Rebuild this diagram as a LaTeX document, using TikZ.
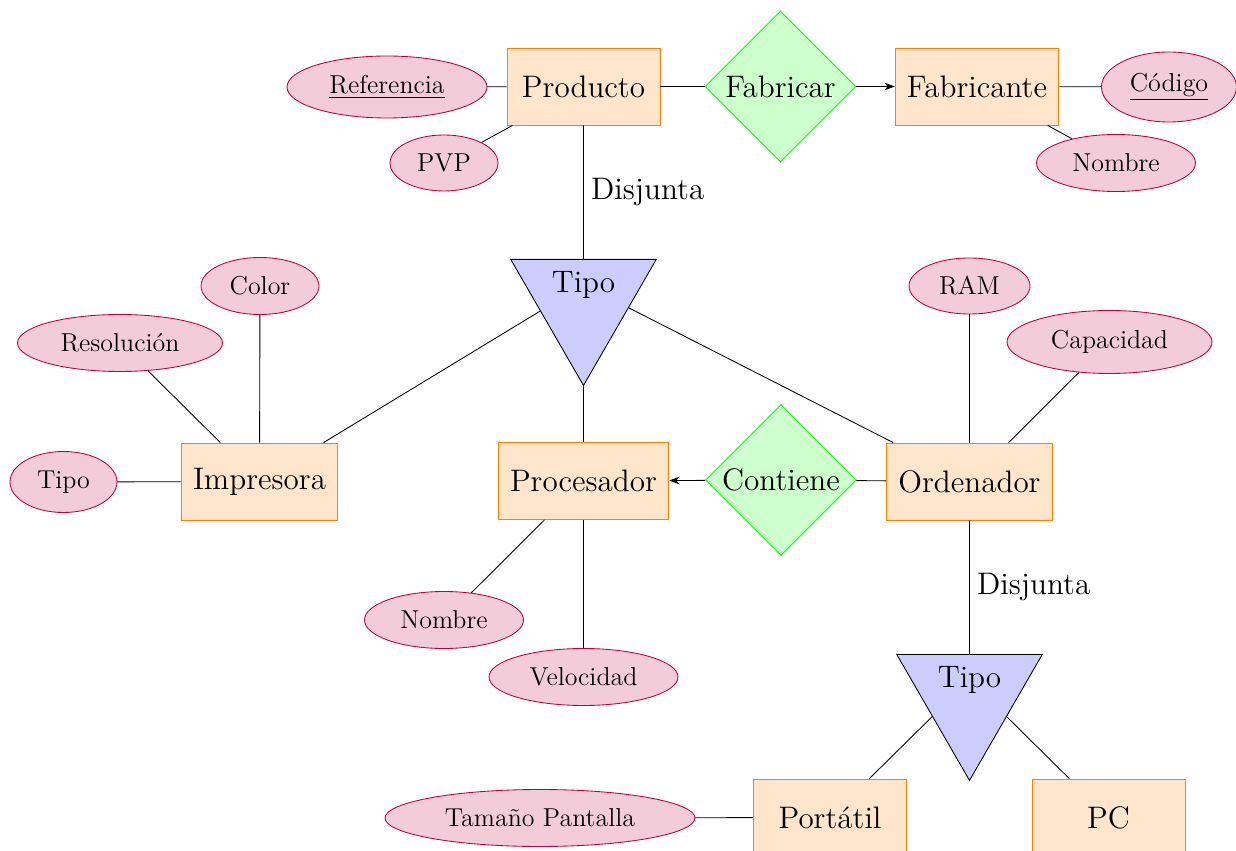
\documentclass[tikz,border=0pt]{standalone}
\usetikzlibrary{shapes.geometric,arrows.meta}
\begin{document}
\begin{tikzpicture}[x=0.46296pt,y=-0.46296pt,
  ent/.style={draw=orange,fill=orange!20,rectangle,font=\Large,inner sep=5.5pt,minimum width=153*0.46296pt,minimum height=77*0.46296pt},
  att/.style={draw=purple,fill=purple!20,ellipse,font=\large,inner sep=0pt},
  sz/.style 2 args={minimum width=#1*0.46296pt,minimum height=#2*0.46296pt},
  rel/.style={draw=green,fill=green!20,diamond,aspect=1,font=\Large,inner sep=0pt,minimum width=151*0.46296pt,minimum height=151*0.46296pt},
  isa/.style={draw=black,fill=blue!20,isosceles triangle,isosceles triangle apex angle=60,shape border rotate=-90,font=\Large,inner sep=5.45pt,anchor=lower side},
  arr/.style={-{Stealth}},
  lab/.style={right,font=\Large}]
\useasboundingbox (0,0) rectangle (1236,851);
\clip (0,0) rectangle (1236,851);
% entities
\node[ent] (prod) at (583.5,86.5) {Producto};
\node[ent] (fabte) at (977,86.5) {Fabricante};
\node[ent] (imp) at (259.5,481.5) {Impresora};
\node[ent] (proc) at (583.5,481) {Procesador};
\node[ent] (ord) at (969.5,481.5) {Ordenador};
\node[ent] (port) at (830,817.5) {Portátil};
\node[ent] (pc) at (1108.5,817.5) {PC};
% relations
\node[rel] (fab) at (780.5,86.5) {Fabricar};
\node[rel] (cont) at (781,480) {Contiene};
% isa
\node[isa] (tipo1) at (583.5,259) {Tipo};
\node[isa] (tipo2) at (969.5,654) {Tipo};
% attributes
\node[att,sz={200}{62}] (ref) at (387,87) {\underline{Referencia}};
\node[att,sz={108}{56}] (pvp) at (444,163) {PVP};
\node[att,sz={135}{70}] (cod) at (1169,87) {\underline{Código}};
\node[att,sz={159}{57}] (nomf) at (1116,163) {Nombre};
\node[att,sz={118}{57}] (color) at (260,286) {Color};
\node[att,sz={205}{57}] (resol) at (120,343) {Resolución};
\node[att,sz={107}{61}] (tipoa) at (63.5,482) {Tipo};
\node[att,sz={159}{57}] (nomp) at (444,620) {Nombre};
\node[att,sz={189}{57}] (vel) at (583.5,677) {Velocidad};
\node[att,sz={121}{56}] (ram) at (969.5,286) {RAM};
\node[att,sz={205}{63}] (cap) at (1109.5,342) {Capacidad};
\node[att,sz={310}{57}] (tam) at (540,818) {Tamaño Pantalla};
% connectors
\draw (ref) -- (prod);
\draw (pvp) -- (prod);
\draw (prod) -- (fab);
\draw[arr] (fab) -- (fabte);
\draw (fabte) -- (cod);
\draw (fabte) -- (nomf);
\draw (prod) -- node[lab] {Disjunta} (tipo1);
\draw (tipo1) -- (imp);
\draw (tipo1) -- (ord);
\draw (tipo1) -- (proc);
\draw (imp) -- (color);
\draw (imp) -- (resol);
\draw (imp) -- (tipoa);
\draw (proc) -- (nomp);
\draw (proc) -- (vel);
\draw[arr] (cont) -- (proc);
\draw (cont) -- (ord);
\draw (ord) -- (ram);
\draw (ord) -- (cap);
\draw (ord) -- node[lab] {Disjunta} (tipo2);
\draw (tipo2) -- (port);
\draw (tipo2) -- (pc);
\draw (port) -- (tam);
\end{tikzpicture}
\end{document}
